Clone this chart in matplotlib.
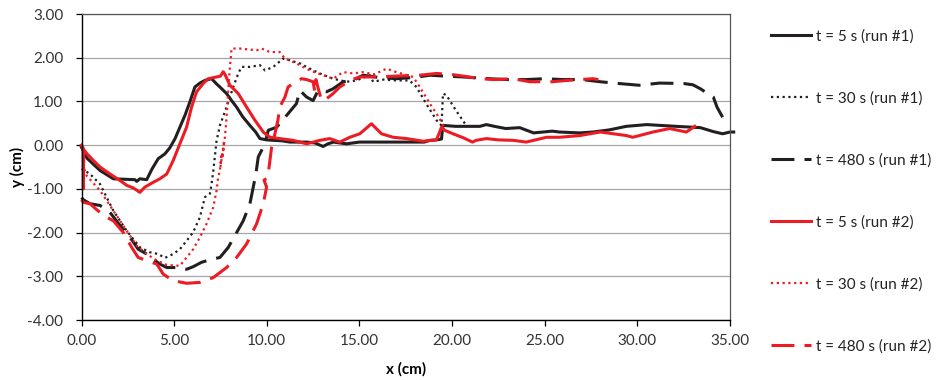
import matplotlib
matplotlib.use("Agg")
import matplotlib.pyplot as plt

plt.rcParams['font.family'] = ['Lato', 'DejaVu Sans']
plt.rcParams['axes.unicode_minus'] = False

# ---- data ----
s1_x = [0.0, 0.3, 1.0, 1.72, 2.3, 2.89, 2.98, 3.15, 3.52, 3.8, 4.14, 4.5, 4.77, 5.05, 5.31, 5.6, 5.85,
        6.12, 6.39, 6.66, 7.02, 7.29, 7.47, 7.83, 8.1, 8.37, 8.7, 9.09, 9.4, 9.63, 10.0, 10.35, 10.8,
        11.25, 11.7, 12.15, 12.6, 13.04, 13.3, 13.6, 14.3, 15.0, 15.5, 16.5, 17.5, 18.5, 18.8, 19.16,
        19.43, 19.5, 19.55, 20.2, 21.0, 21.5, 21.85, 22.4, 22.9, 23.65, 24.4, 25.4, 25.8, 26.9, 27.6,
        28.5, 29.4, 30.5, 31.3, 32.1, 33.4, 34.1, 34.6, 35.0, 35.2]
s1_y = [-0.05, -0.3, -0.58, -0.77, -0.78, -0.79, -0.83, -0.77, -0.79, -0.55, -0.31, -0.2, -0.06, 0.15,
        0.41, 0.7, 0.99, 1.33, 1.42, 1.48, 1.52, 1.4, 1.33, 1.18, 1.02, 0.87, 0.65, 0.45, 0.3, 0.15,
        0.12, 0.11, 0.1, 0.07, 0.07, 0.07, 0.05, -0.03, 0.03, 0.07, 0.03, 0.07, 0.07, 0.07, 0.07, 0.07,
        0.11, 0.12, 0.14, 0.45, 0.45, 0.43, 0.43, 0.43, 0.47, 0.42, 0.38, 0.4, 0.28, 0.32, 0.3, 0.28,
        0.3, 0.35, 0.43, 0.47, 0.45, 0.43, 0.4, 0.31, 0.26, 0.3, 0.3]

s2_x = [0.0, 0.46, 1.0, 1.72, 2.44, 3.16, 3.69, 4.14, 4.5, 4.95, 5.31, 5.67, 6.03, 6.39, 6.66, 6.93,
        7.02, 7.11, 7.2, 7.29, 7.47, 7.83, 8.19, 8.46, 8.64, 9.09, 9.63, 9.9, 10.35, 10.88, 11.25,
        11.79, 12.32, 12.86, 13.58, 14.3, 14.84, 15.56, 15.74, 16.3, 17.0, 17.7, 18.08, 18.6, 19.16,
        19.43, 19.51, 19.7, 20.2, 20.7]
s2_y = [-0.54, -0.66, -0.89, -1.5, -1.96, -2.34, -2.45, -2.49, -2.58, -2.49, -2.38, -2.19, -1.99,
        -1.65, -1.19, -1.11, -0.89, -0.6, -0.25, 0.1, 0.45, 0.87, 1.33, 1.64, 1.79, 1.79, 1.83, 1.71,
        1.79, 1.98, 1.94, 1.87, 1.75, 1.64, 1.52, 1.45, 1.48, 1.6, 1.45, 1.5, 1.48, 1.48, 1.33, 0.95,
        0.57, 0.45, 1.18, 1.14, 0.8, 0.49]

s3_x = [0.0, 0.1, 0.46, 1.0, 1.54, 2.08, 2.62, 3.06, 3.52, 3.87, 4.23, 4.6, 5.13, 5.67, 6.03, 6.48,
        7.02, 7.47, 7.92, 8.28, 8.73, 9.09, 9.27, 9.41, 9.54, 9.72, 9.9, 10.08, 10.53, 11.07, 11.6,
        11.79, 12.15, 12.5, 12.77, 13.22, 13.58, 14.12, 14.66, 15.2, 16.0, 17.0, 18.0, 18.8, 19.6,
        20.6, 22.0, 23.0, 24.0, 25.0, 26.0, 27.0, 28.0, 29.0, 30.1, 31.2, 32.5, 33.0, 33.4, 33.8,
        34.1, 34.3, 34.6]
s3_y = [-1.2, -1.25, -1.34, -1.38, -1.54, -1.84, -2.11, -2.38, -2.49, -2.61, -2.72, -2.8, -2.8,
        -2.84, -2.78, -2.68, -2.61, -2.57, -2.34, -2.07, -1.73, -1.34, -0.96, -0.66, -0.27, -0.12,
        0.03, 0.34, 0.41, 0.68, 0.95, 1.25, 1.1, 1.02, 1.25, 1.22, 1.29, 1.45, 1.48, 1.6, 1.55, 1.52,
        1.55, 1.6, 1.58, 1.56, 1.52, 1.5, 1.5, 1.52, 1.5, 1.5, 1.45, 1.41, 1.37, 1.42, 1.41, 1.38,
        1.29, 1.18, 1.1, 0.87, 0.64]

s4_x = [0.0, 0.08, 0.1, 0.12, 0.3, 0.64, 1.0, 1.54, 2.08, 2.44, 2.8, 3.15, 3.42, 3.87, 4.23, 4.6,
        4.95, 5.31, 5.67, 5.94, 6.21, 6.57, 6.84, 7.29, 7.5, 7.65, 7.74, 8.01, 8.46, 8.91, 9.36, 9.81,
        10.17, 10.7, 11.42, 12.15, 12.86, 13.4, 13.94, 14.48, 15.02, 15.65, 16.19, 16.82, 17.54,
        18.44, 19.16, 19.43, 19.6, 20.05, 20.6, 21.1, 21.3, 21.85, 22.5, 23.3, 24.0, 25.1, 25.8,
        26.9, 28.0, 29.4, 29.75, 30.84, 31.74, 32.64, 33.1]
s4_y = [0.0, -0.05, -1.0, -0.1, -0.2, -0.35, -0.5, -0.66, -0.81, -0.92, -0.98, -1.08, -0.96, -0.85,
        -0.77, -0.66, -0.35, 0.03, 0.41, 0.87, 1.22, 1.41, 1.52, 1.56, 1.58, 1.68, 1.62, 1.37, 1.18,
        0.87, 0.57, 0.3, 0.18, 0.15, 0.11, 0.03, 0.11, 0.15, 0.07, 0.18, 0.26, 0.49, 0.26, 0.18,
        0.15, 0.09, 0.12, 0.41, 0.34, 0.26, 0.17, 0.07, 0.11, 0.15, 0.12, 0.11, 0.07, 0.18, 0.18,
        0.22, 0.3, 0.22, 0.18, 0.3, 0.38, 0.3, 0.43]

s5_x = [0.15, 0.28, 1.0, 1.72, 2.44, 2.98, 3.52, 4.06, 4.6, 5.31, 5.67, 6.03, 6.39, 6.75, 7.11,
        7.29, 7.38, 7.47, 7.56, 7.5, 7.7, 7.6, 7.74, 7.83, 7.92, 8.01, 8.1, 8.55, 9.0, 9.45, 9.72,
        10.17, 10.7, 10.98, 11.6, 12.32, 13.04, 13.58, 14.12, 14.66, 15.2, 15.8, 16.46, 17.0, 17.9,
        18.26, 18.8, 19.16, 19.43, 19.55]
s5_y = [-0.55, -0.7, -1.04, -1.5, -1.96, -2.3, -2.49, -2.64, -2.74, -2.76, -2.57, -2.38, -2.11,
        -1.8, -1.42, -1.04, -0.73, -0.58, -0.2, -0.5, 0.1, -0.3, 0.18, 0.64, 1.25, 1.79, 2.21, 2.21,
        2.19, 2.17, 2.21, 2.13, 2.13, 1.98, 1.87, 1.71, 1.6, 1.52, 1.67, 1.64, 1.67, 1.62, 1.75,
        1.67, 1.56, 1.33, 0.95, 0.72, 0.53, 0.42]

s6_x = [0.0, 0.1, 0.46, 1.18, 1.72, 2.26, 2.71, 3.06, 3.52, 4.06, 4.41, 4.95, 5.67, 6.39, 7.11,
        7.83, 8.37, 8.91, 9.45, 9.81, 9.99, 9.85, 10.05, 10.17, 10.26, 10.44, 10.6, 10.7, 10.98,
        11.15, 11.42, 11.7, 11.88, 12.15, 12.5, 12.6, 12.65, 12.95, 13.22, 13.58, 13.94, 14.48,
        15.02, 15.9, 17.0, 18.26, 19.16, 19.9, 20.6, 21.5, 22.3, 23.3, 24.2, 25.4, 26.2, 26.9,
        27.6, 27.9]
s6_y = [-1.25, -1.31, -1.34, -1.61, -1.73, -2.0, -2.34, -2.57, -2.64, -2.72, -2.95, -3.1, -3.16,
        -3.14, -3.03, -2.8, -2.57, -2.26, -1.8, -1.34, -0.96, -0.8, -0.75, -0.35, -0.05, 0.26, 0.57,
        0.87, 1.1, 1.33, 1.41, 1.48, 1.52, 1.5, 1.45, 1.2, 1.5, 1.02, 1.06, 1.18, 1.33, 1.48, 1.56,
        1.56, 1.58, 1.6, 1.64, 1.62, 1.58, 1.52, 1.5, 1.52, 1.45, 1.45, 1.48, 1.5, 1.52, 1.5]

labels = ["t = 5 s (run #1)", "t = 30 s (run #1)", "t = 480 s (run #1)",
          "t = 5 s (run #2)", "t = 30 s (run #2)", "t = 480 s (run #2)"]
x_ticks = [0, 5, 10, 15, 20, 25, 30, 35]
y_ticks = [-4, -3, -2, -1, 0, 1, 2, 3]

BLACK = '#231f20'
RED = '#ed1c24'

fig = plt.figure(figsize=(9.43, 3.80), dpi=100)
ax = fig.add_axes([81.5 / 943, 1 - 320 / 380, (730 - 81.5) / 943, (320 - 14) / 380])

solid = dict(linestyle='-', linewidth=2.2)
dotted = dict(linestyle=(0, (1.0, 1.6)), linewidth=1.6, dash_capstyle='butt')
dashed = dict(linestyle=(0, (7.5, 3.3)), linewidth=2.2, dash_capstyle='butt')

ax.plot(s1_x, s1_y, color=BLACK, label=labels[0], **solid)
ax.plot(s2_x, s2_y, color=BLACK, label=labels[1], **dotted)
ax.plot(s3_x, s3_y, color=BLACK, label=labels[2], **dashed)
ax.plot(s4_x, s4_y, color=RED, label=labels[3], **solid)
ax.plot(s5_x, s5_y, color=RED, label=labels[4], **dotted)
ax.plot(s6_x, s6_y, color=RED, label=labels[5], **dashed)

for ln in ax.lines:
    ln.set_clip_on(False)

ax.set_xlim(0, 35)
ax.set_ylim(-4, 3)
ax.set_xticks(x_ticks)
ax.set_yticks(y_ticks)
ax.set_xticklabels([f"{v:.2f}" for v in x_ticks])
ax.set_yticklabels([f"{v:.2f}" for v in y_ticks])
ax.tick_params(axis='both', direction='out', length=4, width=0.9, labelsize=11,
               colors='#000000', labelcolor='#333333')
ax.tick_params(axis='x', pad=6)
ax.tick_params(axis='y', pad=9)
ax.grid(axis='y', color='#a6a6a6', linewidth=0.9)
ax.set_axisbelow(True)
for side in ['left', 'bottom']:
    ax.spines[side].set_color('#000000')
    ax.spines[side].set_linewidth(1.0)
for side in ['top', 'right']:
    ax.spines[side].set_color('#555555')
    ax.spines[side].set_linewidth(0.9)

ax.set_xlabel("x (cm)", fontsize=11, fontweight='bold', labelpad=10.5)
ax.set_ylabel("y (cm)", fontsize=11, fontweight='bold', labelpad=2)

leg = fig.legend(loc='center left', bbox_to_anchor=(771 / 943, 1 - 191.5 / 380),
                 frameon=False, fontsize=11, handlelength=2.6, handletextpad=0.35,
                 labelspacing=3.12, borderpad=0, borderaxespad=0)
for t in leg.get_texts():
    t.set_color('#222222')

fig.savefig("out.png", dpi=100)
